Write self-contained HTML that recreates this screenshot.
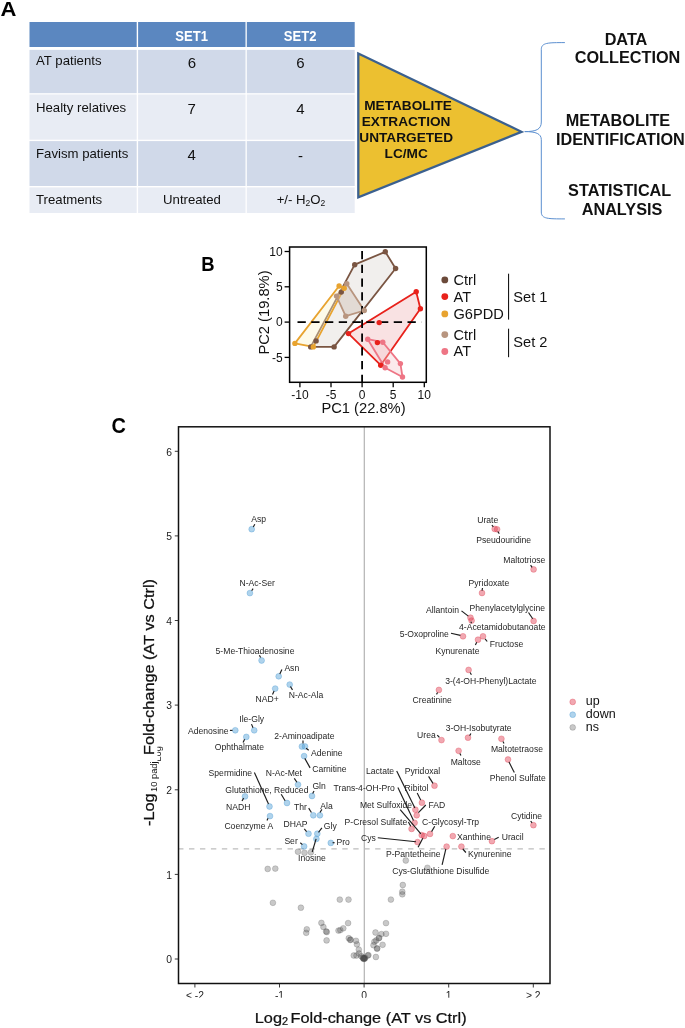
<!DOCTYPE html>
<html><head><meta charset="utf-8"><title>Figure</title>
<style>
html,body{margin:0;padding:0;background:#fff;}
body{width:685px;height:1028px;overflow:hidden;font-family:"Liberation Sans",sans-serif;}
svg{display:block;font-family:"Liberation Sans",sans-serif;will-change:transform;opacity:.999;}
.lbl{font-size:8.6px;fill:#262626;}
.seg{stroke:#1c1c1c;stroke-width:1.15;fill:none;stroke-linecap:butt;}
.up{fill:#e04254;fill-opacity:.46;stroke:#e04254;stroke-opacity:.5;stroke-width:.7;}
.dn{fill:#519fd5;fill-opacity:.46;stroke:#519fd5;stroke-opacity:.55;stroke-width:.7;}
.ns{fill:#4d4d4d;fill-opacity:.31;stroke:#4d4d4d;stroke-opacity:.38;stroke-width:.6;}
.tk{font-size:10.3px;fill:#1a1a1a;}
.cell{font-size:13.2px;fill:#111;}
.num{font-size:15px;fill:#111;}
.hd{font-size:15px;font-weight:bold;fill:#fff;}
.big{font-size:16.25px;font-weight:bold;fill:#111;}
.tri{font-size:13.65px;font-weight:bold;fill:#111;}
.pl{font-size:19px;font-weight:bold;fill:#000;}
.pca{font-size:12px;fill:#111;}
.leg{font-size:14.6px;fill:#111;}
</style></head><body>
<svg width="685" height="1028" viewBox="0 0 685 1028">
<rect x="0" y="0" width="685" height="1028" fill="#fff"/>

<g id="panelA">
<text class="pl" transform="translate(0.6,16.3) scale(1.16,1.05)" x="0" y="0">A</text>
<rect x="29.5" y="22.0" width="107.2" height="25.0" fill="#5b87c0"/>
<rect x="138.1" y="22.0" width="107.4" height="25.0" fill="#5b87c0"/>
<rect x="246.8" y="22.0" width="107.9" height="25.0" fill="#5b87c0"/>
<rect x="29.5" y="49.9" width="107.2" height="43.3" fill="#d0d9e9"/>
<rect x="138.1" y="49.9" width="107.4" height="43.3" fill="#d0d9e9"/>
<rect x="246.8" y="49.9" width="107.9" height="43.3" fill="#d0d9e9"/>
<rect x="29.5" y="94.5" width="107.2" height="45.2" fill="#e8ecf4"/>
<rect x="138.1" y="94.5" width="107.4" height="45.2" fill="#e8ecf4"/>
<rect x="246.8" y="94.5" width="107.9" height="45.2" fill="#e8ecf4"/>
<rect x="29.5" y="141.1" width="107.2" height="44.9" fill="#d0d9e9"/>
<rect x="138.1" y="141.1" width="107.4" height="44.9" fill="#d0d9e9"/>
<rect x="246.8" y="141.1" width="107.9" height="44.9" fill="#d0d9e9"/>
<rect x="29.5" y="187.4" width="107.2" height="25.6" fill="#e8ecf4"/>
<rect x="138.1" y="187.4" width="107.4" height="25.6" fill="#e8ecf4"/>
<rect x="246.8" y="187.4" width="107.9" height="25.6" fill="#e8ecf4"/>
<text class="hd" x="191.6" y="40.9" text-anchor="middle" textLength="32.6" lengthAdjust="spacingAndGlyphs">SET1</text>
<text class="hd" x="300.1" y="40.9" text-anchor="middle" textLength="32.6" lengthAdjust="spacingAndGlyphs">SET2</text>
<text class="cell" x="36" y="65.4">AT patients</text>
<text class="cell" x="36" y="111.8">Healty relatives</text>
<text class="cell" x="36" y="157.6">Favism patients</text>
<text class="cell" x="36" y="203.9">Treatments</text>
<text class="num" x="192" y="68.3" text-anchor="middle">6</text>
<text class="num" x="300.4" y="68.3" text-anchor="middle">6</text>
<text class="num" x="191.7" y="113.8" text-anchor="middle">7</text>
<text class="num" x="300.4" y="113.8" text-anchor="middle">4</text>
<text class="num" x="191.7" y="159.5" text-anchor="middle">4</text>
<text class="num" x="300.4" y="160.8" text-anchor="middle">-</text>
<text class="cell" x="192" y="203.9" text-anchor="middle">Untreated</text>
<text class="cell" x="301" y="203.9" text-anchor="middle">+/- H<tspan font-size="8.5" dy="2.5">2</tspan><tspan dy="-2.5">O</tspan><tspan font-size="8.5" dy="2.5">2</tspan></text>
<polygon points="358.3,53.5 521.5,131.8 358.3,197.3" fill="#ecc030" stroke="#3b608f" stroke-width="2.3" stroke-linejoin="miter" stroke-miterlimit="10"/>
<text class="tri" x="408" y="109.6" text-anchor="middle">METABOLITE</text>
<text class="tri" x="406.1" y="126.1" text-anchor="middle">EXTRACTION</text>
<text class="tri" x="406.2" y="142.4" text-anchor="middle">UNTARGETED</text>
<text class="tri" x="406.2" y="158.4" text-anchor="middle">LC/MC</text>
<path d="M564.9,42.6 C548,42.6 541.3,42.6 541.3,49.5 L541.3,122 C541.3,129.5 536,131.6 524.7,131.6 C536,131.6 541.3,133.7 541.3,139.7 L541.3,212 C541.3,218.9 548,218.9 564.9,218.9" fill="none" stroke="#5b8fd0" stroke-width="1"/>
<text class="big" x="626" y="44.6" text-anchor="middle">DATA</text>
<text class="big" x="627.5" y="63.0" text-anchor="middle">COLLECTION</text>
<text class="big" x="618" y="125.6" text-anchor="middle">METABOLITE</text>
<text class="big" x="620.4" y="144.9" text-anchor="middle">IDENTIFICATION</text>
<text class="big" x="619.7" y="195.7" text-anchor="middle">STATISTICAL</text>
<text class="big" x="622" y="214.8" text-anchor="middle">ANALYSIS</text>
</g>
<g id="panelB">
<text class="pl" transform="translate(201.2,270.8) scale(0.97,1.03)" x="0" y="0">B</text>
<rect x="289.6" y="247" width="136.7" height="135.3" fill="#fff" stroke="none"/>
<polygon points="354.7,264.7 385.3,251.8 395.6,268.5 334.1,346.9 310.7,346.9" fill="#d9d4d0" fill-opacity=".38" stroke="#7a5542" stroke-width="1.8" stroke-linejoin="round"/>
<polygon points="339.1,286.0 344.2,288.2 313.3,346.9 294.9,343.4" fill="#fbf3c8" fill-opacity=".38" stroke="#e8a32f" stroke-width="1.8" stroke-linejoin="round"/>
<polygon points="346.8,283.8 364.3,310.5 345.7,316.2 336.5,296.1" fill="#cbb8aa" fill-opacity=".38" stroke="#b8957f" stroke-width="1.8" stroke-linejoin="round"/>
<polygon points="348.5,333.6 416.2,291.7 420.4,308.8 380.7,365.2" fill="#f0b4b6" fill-opacity=".38" stroke="#e8211b" stroke-width="1.8" stroke-linejoin="round"/>
<polygon points="367.7,339.2 382.8,342.2 400.4,363.6 402.5,377.0 385.1,367.8" fill="#f5c8cd" fill-opacity=".38" stroke="#ee7585" stroke-width="1.8" stroke-linejoin="round"/>
<line x1="362.1" y1="251" x2="362.1" y2="382.3" stroke="#000" stroke-width="1.8" stroke-dasharray="8.3 5.45"/>
<line x1="297.5" y1="322.1" x2="421.4" y2="322.1" stroke="#000" stroke-width="1.8" stroke-dasharray="8.3 5.45"/>
<circle cx="354.7" cy="264.7" r="2.7" fill="#7a5542"/>
<circle cx="385.3" cy="251.8" r="2.7" fill="#7a5542"/>
<circle cx="395.6" cy="268.5" r="2.7" fill="#7a5542"/>
<circle cx="334.1" cy="346.9" r="2.7" fill="#7a5542"/>
<circle cx="310.7" cy="346.9" r="2.7" fill="#7a5542"/>
<circle cx="316.1" cy="340.9" r="2.7" fill="#7a5542"/>
<circle cx="341.3" cy="292.1" r="2.7" fill="#7a5542"/>
<circle cx="339.1" cy="286.0" r="2.7" fill="#e8a32f"/>
<circle cx="344.2" cy="288.2" r="2.7" fill="#e8a32f"/>
<circle cx="313.3" cy="346.9" r="2.7" fill="#e8a32f"/>
<circle cx="294.9" cy="343.4" r="2.7" fill="#e8a32f"/>
<circle cx="346.8" cy="283.8" r="2.7" fill="#b8957f"/>
<circle cx="364.3" cy="310.5" r="2.7" fill="#b8957f"/>
<circle cx="345.7" cy="316.2" r="2.7" fill="#b8957f"/>
<circle cx="336.5" cy="296.1" r="2.7" fill="#b8957f"/>
<circle cx="348.5" cy="333.6" r="2.7" fill="#e8211b"/>
<circle cx="416.2" cy="291.7" r="2.7" fill="#e8211b"/>
<circle cx="420.4" cy="308.8" r="2.7" fill="#e8211b"/>
<circle cx="380.7" cy="365.2" r="2.7" fill="#e8211b"/>
<circle cx="379.2" cy="322.6" r="2.7" fill="#e8211b"/>
<circle cx="377.4" cy="342.6" r="2.7" fill="#e8211b"/>
<circle cx="367.7" cy="339.2" r="2.7" fill="#ee7585"/>
<circle cx="382.8" cy="342.2" r="2.7" fill="#ee7585"/>
<circle cx="400.4" cy="363.6" r="2.7" fill="#ee7585"/>
<circle cx="402.5" cy="377.0" r="2.7" fill="#ee7585"/>
<circle cx="385.1" cy="367.8" r="2.7" fill="#ee7585"/>
<circle cx="387.6" cy="361.9" r="2.7" fill="#ee7585"/>
<rect x="289.6" y="247" width="136.7" height="135.3" fill="none" stroke="#000" stroke-width="1.5"/>
<line x1="299.9" y1="382.3" x2="299.9" y2="387.3" stroke="#000" stroke-width="1.3"/>
<text class="pca" x="299.9" y="398.5" text-anchor="middle">-10</text>
<line x1="331.0" y1="382.3" x2="331.0" y2="387.3" stroke="#000" stroke-width="1.3"/>
<text class="pca" x="331.0" y="398.5" text-anchor="middle">-5</text>
<line x1="362.1" y1="382.3" x2="362.1" y2="387.3" stroke="#000" stroke-width="1.3"/>
<text class="pca" x="362.1" y="398.5" text-anchor="middle">0</text>
<line x1="393.2" y1="382.3" x2="393.2" y2="387.3" stroke="#000" stroke-width="1.3"/>
<text class="pca" x="393.2" y="398.5" text-anchor="middle">5</text>
<line x1="424.3" y1="382.3" x2="424.3" y2="387.3" stroke="#000" stroke-width="1.3"/>
<text class="pca" x="424.3" y="398.5" text-anchor="middle">10</text>
<line x1="284.6" y1="357.4" x2="289.6" y2="357.4" stroke="#000" stroke-width="1.3"/>
<text class="pca" x="282.6" y="361.5" text-anchor="end">-5</text>
<line x1="284.6" y1="322.1" x2="289.6" y2="322.1" stroke="#000" stroke-width="1.3"/>
<text class="pca" x="282.6" y="326.2" text-anchor="end">0</text>
<line x1="284.6" y1="286.8" x2="289.6" y2="286.8" stroke="#000" stroke-width="1.3"/>
<text class="pca" x="282.6" y="290.9" text-anchor="end">5</text>
<line x1="284.6" y1="251.5" x2="289.6" y2="251.5" stroke="#000" stroke-width="1.3"/>
<text class="pca" x="282.6" y="255.6" text-anchor="end">10</text>
<text x="363.5" y="413.3" text-anchor="middle" font-size="14.7" fill="#111">PC1 (22.8%)</text>
<text transform="translate(269.3,312.5) rotate(-90)" text-anchor="middle" font-size="14.7" fill="#111">PC2 (19.8%)</text>
<circle cx="444.8" cy="279.9" r="3.4" fill="#6b4a3a"/>
<text class="leg" x="453.5" y="285.3">Ctrl</text>
<circle cx="444.8" cy="296.6" r="3.4" fill="#e8211b"/>
<text class="leg" x="453.5" y="302.0">AT</text>
<circle cx="444.8" cy="313.9" r="3.4" fill="#e8a32f"/>
<text class="leg" x="453.5" y="318.8">G6PDD</text>
<circle cx="444.8" cy="334.6" r="3.4" fill="#b8957f"/>
<text class="leg" x="453.5" y="339.6">Ctrl</text>
<circle cx="444.8" cy="351.5" r="3.4" fill="#ee7585"/>
<text class="leg" x="453.5" y="356.3">AT</text>
<line x1="508.6" y1="273.7" x2="508.6" y2="319.6" stroke="#000" stroke-width="1"/>
<line x1="508.6" y1="328.7" x2="508.6" y2="357.2" stroke="#000" stroke-width="1"/>
<text class="leg" x="513.3" y="301.6">Set 1</text>
<text class="leg" x="513.3" y="347.1">Set 2</text>
</g>
<g id="panelC">
<text class="pl" transform="translate(111.6,433.1) scale(1.05,1.19)" x="0" y="0">C</text>
<line x1="364.3" y1="426.8" x2="364.3" y2="983.5" stroke="#b3b3b3" stroke-width="1.2"/>
<line x1="178.05" y1="848.8" x2="550.0" y2="848.8" stroke="#bdbdbd" stroke-width="1.3" stroke-dasharray="5.4 5.55"/>
<circle class="ns" cx="298" cy="851.7" r="2.9"/>
<circle class="ns" cx="304.5" cy="852.8" r="2.9"/>
<circle class="ns" cx="310.9" cy="852.3" r="2.9"/>
<circle class="ns" cx="267.7" cy="868.9" r="2.9"/>
<circle class="ns" cx="275.3" cy="868.6" r="2.9"/>
<circle class="ns" cx="272.9" cy="902.8" r="2.9"/>
<circle class="ns" cx="300.9" cy="907.7" r="2.9"/>
<circle class="ns" cx="339.8" cy="899.6" r="2.9"/>
<circle class="ns" cx="348.5" cy="899.6" r="2.9"/>
<circle class="ns" cx="321.4" cy="922.9" r="2.9"/>
<circle class="ns" cx="323.4" cy="927" r="2.9"/>
<circle class="ns" cx="326.1" cy="931.4" r="2.9"/>
<circle class="ns" cx="326.8" cy="932" r="2.9"/>
<circle class="ns" cx="306.8" cy="929.3" r="2.9"/>
<circle class="ns" cx="306.2" cy="932.8" r="2.9"/>
<circle class="ns" cx="326.6" cy="940.4" r="2.9"/>
<circle class="ns" cx="348.1" cy="923.1" r="2.9"/>
<circle class="ns" cx="343.3" cy="928.3" r="2.9"/>
<circle class="ns" cx="340.3" cy="930.1" r="2.9"/>
<circle class="ns" cx="338.5" cy="930.6" r="2.9"/>
<circle class="ns" cx="348.8" cy="938.2" r="2.9"/>
<circle class="ns" cx="350.3" cy="940" r="2.9"/>
<circle class="ns" cx="350.6" cy="939.6" r="2.9"/>
<circle class="ns" cx="356" cy="940.8" r="2.9"/>
<circle class="ns" cx="356.9" cy="944.3" r="2.9"/>
<circle class="ns" cx="358.8" cy="949.6" r="2.9"/>
<circle class="ns" cx="359.1" cy="953.5" r="2.9"/>
<circle class="ns" cx="353.8" cy="955.5" r="2.9"/>
<circle class="ns" cx="356.5" cy="955.5" r="2.9"/>
<circle class="ns" cx="361.3" cy="956.2" r="2.9"/>
<circle class="ns" cx="363.2" cy="958.2" r="2.9"/>
<circle class="ns" cx="363.9" cy="958.6" r="2.9"/>
<circle class="ns" cx="364.4" cy="958.3" r="2.9"/>
<circle class="ns" cx="364.0" cy="957.9" r="2.9"/>
<circle class="ns" cx="363.6" cy="958.9" r="2.9"/>
<circle class="ns" cx="364.6" cy="958.8" r="2.9"/>
<circle class="ns" cx="365.2" cy="957.8" r="2.9"/>
<circle class="ns" cx="362.8" cy="957.6" r="2.9"/>
<circle class="ns" cx="367.8" cy="955.5" r="2.9"/>
<circle class="ns" cx="368.4" cy="955.1" r="2.9"/>
<circle class="ns" cx="386" cy="923.1" r="2.9"/>
<circle class="ns" cx="375.5" cy="932.5" r="2.9"/>
<circle class="ns" cx="381.4" cy="934.1" r="2.9"/>
<circle class="ns" cx="386" cy="933.8" r="2.9"/>
<circle class="ns" cx="378.8" cy="938.2" r="2.9"/>
<circle class="ns" cx="379.2" cy="937.8" r="2.9"/>
<circle class="ns" cx="376.2" cy="940.4" r="2.9"/>
<circle class="ns" cx="374.4" cy="941.7" r="2.9"/>
<circle class="ns" cx="373.5" cy="945.2" r="2.9"/>
<circle class="ns" cx="382.6" cy="944.8" r="2.9"/>
<circle class="ns" cx="377.2" cy="948.3" r="2.9"/>
<circle class="ns" cx="377.0" cy="948.7" r="2.9"/>
<circle class="ns" cx="375.9" cy="957" r="2.9"/>
<circle class="ns" cx="390.9" cy="899.6" r="2.9"/>
<circle class="ns" cx="402.3" cy="894.3" r="2.9"/>
<circle class="ns" cx="402.3" cy="891.7" r="2.9"/>
<circle class="ns" cx="402.8" cy="885" r="2.9"/>
<circle class="ns" cx="405.8" cy="860.5" r="2.9"/>
<circle class="ns" cx="427.4" cy="867.8" r="2.9"/>
<circle class="dn" cx="251.7" cy="529.2" r="2.9"/>
<circle class="dn" cx="249.9" cy="593.1" r="2.9"/>
<circle class="dn" cx="261.6" cy="660.5" r="2.9"/>
<circle class="dn" cx="278.7" cy="676.3" r="2.9"/>
<circle class="dn" cx="289.7" cy="684.6" r="2.9"/>
<circle class="dn" cx="275.2" cy="688.6" r="2.9"/>
<circle class="dn" cx="254.2" cy="730.3" r="2.9"/>
<circle class="dn" cx="235.3" cy="730.3" r="2.9"/>
<circle class="dn" cx="246.3" cy="736.9" r="2.9"/>
<circle class="dn" cx="301.9" cy="746.5" r="2.9"/>
<circle class="dn" cx="305" cy="746.5" r="2.9"/>
<circle class="dn" cx="304.1" cy="756.1" r="2.9"/>
<circle class="dn" cx="269.5" cy="806.5" r="2.9"/>
<circle class="dn" cx="298" cy="784.6" r="2.9"/>
<circle class="dn" cx="312" cy="796" r="2.9"/>
<circle class="dn" cx="287" cy="803" r="2.9"/>
<circle class="dn" cx="245" cy="796.4" r="2.9"/>
<circle class="dn" cx="270" cy="816.1" r="2.9"/>
<circle class="dn" cx="313.3" cy="815.3" r="2.9"/>
<circle class="dn" cx="319.9" cy="815.3" r="2.9"/>
<circle class="dn" cx="308.5" cy="833.7" r="2.9"/>
<circle class="dn" cx="317.3" cy="833.7" r="2.9"/>
<circle class="dn" cx="316.4" cy="838.9" r="2.9"/>
<circle class="dn" cx="304.1" cy="846.4" r="2.9"/>
<circle class="dn" cx="330.8" cy="842.9" r="2.9"/>
<circle class="up" cx="494.7" cy="528.9" r="2.9"/>
<circle class="up" cx="497.1" cy="529.3" r="2.9"/>
<circle class="up" cx="533.6" cy="569.4" r="2.9"/>
<circle class="up" cx="482.0" cy="593.0" r="2.9"/>
<circle class="up" cx="470.5" cy="617.7" r="2.9"/>
<circle class="up" cx="471.6" cy="620.6" r="2.9"/>
<circle class="up" cx="533.6" cy="621.0" r="2.9"/>
<circle class="up" cx="463" cy="636.3" r="2.9"/>
<circle class="up" cx="483" cy="636.3" r="2.9"/>
<circle class="up" cx="478" cy="639.7" r="2.9"/>
<circle class="up" cx="468.6" cy="669.9" r="2.9"/>
<circle class="up" cx="438.9" cy="689.9" r="2.9"/>
<circle class="up" cx="468" cy="737.7" r="2.9"/>
<circle class="up" cx="441.5" cy="740.1" r="2.9"/>
<circle class="up" cx="501.4" cy="738.8" r="2.9"/>
<circle class="up" cx="458.6" cy="750.8" r="2.9"/>
<circle class="up" cx="508" cy="759.5" r="2.9"/>
<circle class="up" cx="434.5" cy="785.7" r="2.9"/>
<circle class="up" cx="421.9" cy="802.7" r="2.9"/>
<circle class="up" cx="415.4" cy="809.7" r="2.9"/>
<circle class="up" cx="416.7" cy="815.3" r="2.9"/>
<circle class="up" cx="414.6" cy="822.8" r="2.9"/>
<circle class="up" cx="411.6" cy="828.9" r="2.9"/>
<circle class="up" cx="430" cy="833.9" r="2.9"/>
<circle class="up" cx="421.7" cy="835.1" r="2.9"/>
<circle class="up" cx="424.2" cy="836" r="2.9"/>
<circle class="up" cx="417.5" cy="842.1" r="2.9"/>
<circle class="up" cx="452.8" cy="836.1" r="2.9"/>
<circle class="up" cx="491.9" cy="841.2" r="2.9"/>
<circle class="up" cx="533.4" cy="825.2" r="2.9"/>
<circle class="up" cx="461.4" cy="846.6" r="2.9"/>
<circle class="up" cx="446.6" cy="846.6" r="2.9"/>
<text class="lbl" x="251.2" y="522.4" text-anchor="start">Asp</text>
<text class="lbl" x="239.5" y="586.3" text-anchor="start">N-Ac-Ser</text>
<text class="lbl" x="215.6" y="654.2" text-anchor="start">5-Me-Thioadenosine</text>
<text class="lbl" x="284.4" y="671.3" text-anchor="start">Asn</text>
<text class="lbl" x="288.8" y="697.7" text-anchor="start">N-Ac-Ala</text>
<text class="lbl" x="255.5" y="702.4" text-anchor="start">NAD+</text>
<text class="lbl" x="239.3" y="722.1" text-anchor="start">Ile-Gly</text>
<text class="lbl" x="188" y="734.1" text-anchor="start">Adenosine</text>
<text class="lbl" x="214.8" y="750.4" text-anchor="start">Ophthalmate</text>
<text class="lbl" x="274.3" y="739.0" text-anchor="start">2-Aminoadipate</text>
<text class="lbl" x="311.1" y="755.6" text-anchor="start">Adenine</text>
<text class="lbl" x="312.2" y="772.1" text-anchor="start">Carnitine</text>
<text class="lbl" x="208.6" y="775.8" text-anchor="start">Spermidine</text>
<text class="lbl" x="265.7" y="775.8" text-anchor="start">N-Ac-Met</text>
<text class="lbl" x="312.4" y="788.8" text-anchor="start">Gln</text>
<text class="lbl" x="225.3" y="792.9" text-anchor="start">Glutathione, Reduced</text>
<text class="lbl" x="226.1" y="809.5" text-anchor="start">NADH</text>
<text class="lbl" x="224.4" y="828.9" text-anchor="start">Coenzyme A</text>
<text class="lbl" x="294" y="809.5" text-anchor="start">Thr</text>
<text class="lbl" x="320.3" y="808.7" text-anchor="start">Ala</text>
<text class="lbl" x="283.5" y="826.9" text-anchor="start">DHAP</text>
<text class="lbl" x="323.8" y="828.8" text-anchor="start">Gly</text>
<text class="lbl" x="284.4" y="843.9" text-anchor="start">Ser</text>
<text class="lbl" x="336.5" y="845.3" text-anchor="start">Pro</text>
<text class="lbl" x="298" y="861.4" text-anchor="start">Inosine</text>
<text class="lbl" x="477.2" y="522.5" text-anchor="start">Urate</text>
<text class="lbl" x="476.2" y="543.4" text-anchor="start">Pseudouridine</text>
<text class="lbl" x="503.3" y="563.4" text-anchor="start">Maltotriose</text>
<text class="lbl" x="468.6" y="586.1" text-anchor="start">Pyridoxate</text>
<text class="lbl" x="426" y="613.2" text-anchor="start">Allantoin</text>
<text class="lbl" x="469.6" y="611.3" text-anchor="start">Phenylacetylglycine</text>
<text class="lbl" x="459.1" y="630.1" text-anchor="start">4-Acetamidobutanoate</text>
<text class="lbl" x="399.7" y="636.9" text-anchor="start">5-Oxoproline</text>
<text class="lbl" x="489.8" y="646.8" text-anchor="start">Fructose</text>
<text class="lbl" x="435.5" y="653.6" text-anchor="start">Kynurenate</text>
<text class="lbl" x="445.2" y="683.8" text-anchor="start">3-(4-OH-Phenyl)Lactate</text>
<text class="lbl" x="412.6" y="703.1" text-anchor="start">Creatinine</text>
<text class="lbl" x="445.7" y="730.9" text-anchor="start">3-OH-Isobutyrate</text>
<text class="lbl" x="417.1" y="737.8" text-anchor="start">Urea</text>
<text class="lbl" x="490.9" y="752.0" text-anchor="start">Maltotetraose</text>
<text class="lbl" x="450.7" y="764.6" text-anchor="start">Maltose</text>
<text class="lbl" x="489.8" y="781.1" text-anchor="start">Phenol Sulfate</text>
<text class="lbl" x="365.9" y="773.9" text-anchor="start">Lactate</text>
<text class="lbl" x="404.8" y="773.8" text-anchor="start">Pyridoxal</text>
<text class="lbl" x="394.9" y="790.7" text-anchor="end">Trans-4-OH-Pro</text>
<text class="lbl" x="404.6" y="790.7" text-anchor="start">Ribitol</text>
<text class="lbl" x="359.9" y="807.6" text-anchor="start">Met Sulfoxide</text>
<text class="lbl" x="428.6" y="807.6" text-anchor="start">FAD</text>
<text class="lbl" x="407.2" y="824.5" text-anchor="end">P-Cresol Sulfate</text>
<text class="lbl" x="422.1" y="824.5" text-anchor="start">C-Glycosyl-Trp</text>
<text class="lbl" x="361.1" y="841.0" text-anchor="start">Cys</text>
<text class="lbl" x="457.0" y="840.4" text-anchor="start">Xanthine</text>
<text class="lbl" x="501.7" y="840.4" text-anchor="start">Uracil</text>
<text class="lbl" x="511.0" y="819.0" text-anchor="start">Cytidine</text>
<text class="lbl" x="468.0" y="857.1" text-anchor="start">Kynurenine</text>
<text class="lbl" x="386.0" y="856.6" text-anchor="start">P-Pantetheine</text>
<text class="lbl" x="392.3" y="873.6" text-anchor="start">Cys-Glutathione Disulfide</text>
<line class="seg" x1="254.8" y1="524.3" x2="253.3" y2="527.0"/>
<line class="seg" x1="253.1" y1="588.6" x2="251.7" y2="590.7"/>
<line class="seg" x1="259.4" y1="655.3" x2="260.6" y2="657.6"/>
<line class="seg" x1="281.9" y1="669.4" x2="279.8" y2="674.1"/>
<line class="seg" x1="290.4" y1="686.5" x2="292.5" y2="689.9"/>
<line class="seg" x1="274.1" y1="691.0" x2="272.5" y2="694.4"/>
<line class="seg" x1="251.5" y1="724.1" x2="253.0" y2="727.7"/>
<line class="seg" x1="229.9" y1="730.4" x2="232.5" y2="730.4"/>
<line class="seg" x1="244.6" y1="739.2" x2="243.1" y2="742.5"/>
<line class="seg" x1="303.0" y1="740.4" x2="303.0" y2="743.5"/>
<line class="seg" x1="306.1" y1="748.2" x2="308.7" y2="750.3"/>
<line class="seg" x1="304.8" y1="758.4" x2="310.1" y2="767.9"/>
<line class="seg" x1="254.4" y1="772.6" x2="268.5" y2="804.1"/>
<line class="seg" x1="294.3" y1="778.4" x2="296.9" y2="782.3"/>
<line class="seg" x1="314.0" y1="791.0" x2="312.7" y2="793.6"/>
<line class="seg" x1="281.2" y1="794.2" x2="285.1" y2="800.7"/>
<line class="seg" x1="243.6" y1="798.1" x2="242.0" y2="801.0"/>
<line class="seg" x1="308.7" y1="808.1" x2="311.4" y2="812.5"/>
<line class="seg" x1="321.9" y1="809.4" x2="320.0" y2="812.5"/>
<line class="seg" x1="268.0" y1="818.3" x2="267.0" y2="820.4"/>
<line class="seg" x1="304.3" y1="828.8" x2="306.6" y2="831.7"/>
<line class="seg" x1="321.9" y1="827.8" x2="318.5" y2="832.3"/>
<line class="seg" x1="300.3" y1="842.8" x2="302.4" y2="844.6"/>
<line class="seg" x1="332.6" y1="842.7" x2="334.6" y2="842.7"/>
<line class="seg" x1="316.1" y1="838.8" x2="312.2" y2="852.0"/>
<line class="seg" x1="491.9" y1="525.0" x2="493.3" y2="526.8"/>
<line class="seg" x1="497.7" y1="531.5" x2="499.3" y2="533.6"/>
<line class="seg" x1="530.6" y1="565.2" x2="532.1" y2="567.3"/>
<line class="seg" x1="482.5" y1="588.0" x2="482.0" y2="590.6"/>
<line class="seg" x1="461.5" y1="610.9" x2="468.3" y2="616.1"/>
<line class="seg" x1="528.5" y1="612.5" x2="532.7" y2="618.8"/>
<line class="seg" x1="470.9" y1="621.6" x2="471.5" y2="623.2"/>
<line class="seg" x1="451.0" y1="633.3" x2="460.4" y2="635.4"/>
<line class="seg" x1="485.1" y1="638.9" x2="487.2" y2="641.5"/>
<line class="seg" x1="476.7" y1="642.3" x2="475.4" y2="645.0"/>
<line class="seg" x1="470.1" y1="672.5" x2="471.4" y2="674.7"/>
<line class="seg" x1="437.6" y1="692.5" x2="436.5" y2="694.4"/>
<line class="seg" x1="437.3" y1="735.1" x2="439.4" y2="737.4"/>
<line class="seg" x1="470.9" y1="733.5" x2="469.6" y2="735.6"/>
<line class="seg" x1="503.0" y1="741.4" x2="504.0" y2="743.5"/>
<line class="seg" x1="459.9" y1="753.5" x2="460.9" y2="755.6"/>
<line class="seg" x1="509.0" y1="762.1" x2="514.3" y2="772.4"/>
<line class="seg" x1="428.6" y1="776.4" x2="433.0" y2="783.4"/>
<line class="seg" x1="396.7" y1="771.1" x2="414.9" y2="808.0"/>
<line class="seg" x1="397.9" y1="787.4" x2="413.5" y2="820.5"/>
<line class="seg" x1="400.2" y1="809.7" x2="420.9" y2="833.9"/>
<line class="seg" x1="408.4" y1="822.0" x2="410.7" y2="826.3"/>
<line class="seg" x1="425.8" y1="805.0" x2="418.4" y2="812.7"/>
<line class="seg" x1="417.2" y1="793.0" x2="420.7" y2="800.0"/>
<line class="seg" x1="434.7" y1="826.3" x2="431.6" y2="831.6"/>
<line class="seg" x1="377.8" y1="837.7" x2="416.0" y2="841.7"/>
<line class="seg" x1="418.1" y1="847.3" x2="422.8" y2="838.2"/>
<line class="seg" x1="442.1" y1="864.9" x2="445.8" y2="849.1"/>
<line class="seg" x1="462.8" y1="849.0" x2="465.9" y2="852.5"/>
<line class="seg" x1="498.7" y1="837.3" x2="494.3" y2="839.6"/>
<line class="seg" x1="530.7" y1="821.0" x2="532.0" y2="822.9"/>
<rect x="178.5" y="426.8" width="371.5" height="556.7" fill="none" stroke="#111" stroke-width="1.5"/>
<line x1="174.8" y1="959.0" x2="178.5" y2="959.0" stroke="#222" stroke-width="0.9"/>
<text class="tk" x="172.1" y="963.2" text-anchor="end">0</text>
<line x1="174.8" y1="874.4" x2="178.5" y2="874.4" stroke="#222" stroke-width="0.9"/>
<text class="tk" x="172.1" y="878.6" text-anchor="end">1</text>
<line x1="174.8" y1="789.8" x2="178.5" y2="789.8" stroke="#222" stroke-width="0.9"/>
<text class="tk" x="172.1" y="794.0" text-anchor="end">2</text>
<line x1="174.8" y1="705.1" x2="178.5" y2="705.1" stroke="#222" stroke-width="0.9"/>
<text class="tk" x="172.1" y="709.3" text-anchor="end">3</text>
<line x1="174.8" y1="620.5" x2="178.5" y2="620.5" stroke="#222" stroke-width="0.9"/>
<text class="tk" x="172.1" y="624.7" text-anchor="end">4</text>
<line x1="174.8" y1="535.9" x2="178.5" y2="535.9" stroke="#222" stroke-width="0.9"/>
<text class="tk" x="172.1" y="540.1" text-anchor="end">5</text>
<line x1="174.8" y1="451.3" x2="178.5" y2="451.3" stroke="#222" stroke-width="0.9"/>
<text class="tk" x="172.1" y="455.5" text-anchor="end">6</text>
<line x1="194.9" y1="983.5" x2="194.9" y2="987.5" stroke="#222" stroke-width="0.9"/>
<text class="tk" x="194.9" y="999.0" text-anchor="middle">&lt; -2</text>
<line x1="279.5" y1="983.5" x2="279.5" y2="987.5" stroke="#222" stroke-width="0.9"/>
<text class="tk" x="279.5" y="999.0" text-anchor="middle">-1</text>
<line x1="364.1" y1="983.5" x2="364.1" y2="987.5" stroke="#222" stroke-width="0.9"/>
<text class="tk" x="364.1" y="999.0" text-anchor="middle">0</text>
<line x1="448.7" y1="983.5" x2="448.7" y2="987.5" stroke="#222" stroke-width="0.9"/>
<text class="tk" x="448.7" y="999.0" text-anchor="middle">1</text>
<line x1="533.3" y1="983.5" x2="533.3" y2="987.5" stroke="#222" stroke-width="0.9"/>
<text class="tk" x="533.3" y="999.0" text-anchor="middle">&gt; 2</text>
<rect x="170" y="997.7" width="400" height="8" fill="#fff"/>
<text transform="translate(254.8,1022.8) scale(1.087,1)" font-size="15" fill="#111" stroke="#111" stroke-width=".25">Log<tspan font-size="10" dy="2.6">2</tspan></text>
<text transform="translate(290.6,1022.8) scale(1.087,1)" font-size="15" fill="#111" stroke="#111" stroke-width=".25">Fold-change (AT vs Ctrl)</text>
<text transform="translate(154.1,826) rotate(-90) scale(1.087,1)" font-size="15" fill="#111" stroke="#111" stroke-width=".25">-Log</text>
<text transform="translate(157.2,791.9) rotate(-90)" font-size="9.3" fill="#111">10 padj</text>
<text transform="translate(154.1,755) rotate(-90) scale(1.087,1)" font-size="15" fill="#111" stroke="#111" stroke-width=".25">Fold-change (AT vs Ctrl)</text>
<clipPath id="cpl"><rect x="157.5" y="740" width="8" height="25"/></clipPath>
<g clip-path="url(#cpl)"><text transform="translate(161,761.6) rotate(-90)" font-size="9.3" fill="#111">Log</text></g>
<circle class="up" cx="572.7" cy="701.9" r="2.9"/>
<text x="585.8" y="705.4" font-size="12.5" fill="#111">up</text>
<circle class="dn" cx="572.7" cy="714.7" r="2.9"/>
<text x="585.8" y="718.2" font-size="12.5" fill="#111">down</text>
<circle class="ns" cx="572.7" cy="727.4" r="2.9"/>
<text x="585.8" y="731.0" font-size="12.5" fill="#111">ns</text>
</g>
</svg></body></html>
